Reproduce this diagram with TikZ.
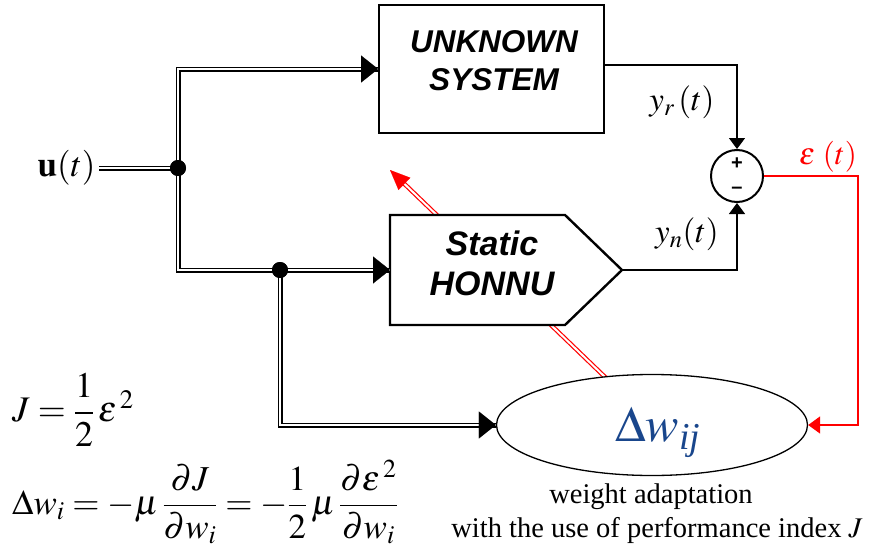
\documentclass[tikz,border=0pt]{standalone}
\usepackage{amsmath}
\usepackage{mathptmx}
\usepackage{fontspec}
\setmainfont{Liberation Serif}
\setsansfont{Liberation Sans}
\usetikzlibrary{arrows.meta,shapes.geometric,calc}
\definecolor{dwblue}{RGB}{25,70,140}
\begin{document}
\begin{tikzpicture}[x=1pt,y=-1pt,
  dbl/.style={draw=black, double=white, double distance=2.2pt, line width=1.4pt},
  rdbl/.style={draw=red, double=white, double distance=2pt, line width=1.2pt},
  sline/.style={line width=1.3pt},
  dtip/.style={line width=0.1pt,-{Triangle[length=17pt,width=27pt]}},
  stip/.style={-{Triangle[length=11pt,width=16pt]}},
  rtip/.style={draw=red,line width=0.1pt,-{Triangle[length=20pt,width=17pt]}},
  usfont/.style={font=\fontsize{31.5}{38}\selectfont\sffamily\bfseries\itshape, align=center},
  hnfont/.style={font=\fontsize{34}{40}\selectfont\sffamily\bfseries\itshape, align=center},
  lbl/.style={font=\fontsize{33}{38}\selectfont},
  dot/.style={circle, fill=black, inner sep=0pt, minimum size=16pt}]
\useasboundingbox (0,0) rectangle (873,554);

% adaptation line (drawn first, hidden by blocks)
\coordinate (ad1) at (606,378);
\coordinate (ad2) at (390,170);
\draw[rdbl] (ad1) -- ($(ad2)!18pt!(ad1)$);
\draw[rtip,red] ($(ad2)!20pt!(ad1)$) -- (ad2);

% unknown system
\node[draw, line width=1.8pt, fill=white, minimum width=225pt, minimum height=128pt] (us) at (491.5,69) {};
\node[usfont] (ustext) at (494,61) {UNKNOWN\\SYSTEM};

% static HONNU
\draw[line width=2.4pt, fill=white, line join=miter] (390,215) -- (565,215) -- (622,270) -- (565,325) -- (390,325) -- cycle;
\coordinate (hnin) at (390,270);
\coordinate (hnout) at (622,270);
\node[hnfont] (hntext) at (492,263) {Static\\HONNU};

% sum
\node[circle, draw, line width=2pt, minimum size=52pt, inner sep=0pt] (sum) at (737,176) {};
\node[font=\fontsize{20}{22}\selectfont\sffamily\bfseries] (plus) at (737,164) {+};
\node[font=\fontsize{20}{22}\selectfont\sffamily\bfseries] (minus) at (737,190) {\textendash};

% ellipse
\node[ellipse, draw, line width=1.3pt, fill=white, minimum width=311pt, minimum height=101pt, inner sep=0pt] (ell) at (652,425) {};
\node[font=\fontsize{50}{54}\selectfont, text=dwblue] (dw) at (658,432) {$\Delta w_{\hbox{\fontsize{38}{40}\selectfont\itshape ij}}$};

% input
\node[anchor=east, font=\fontsize{35}{40}\selectfont] (u) at (99,168) {$\mathbf{u}(t)$};
\node[dot] (j1) at (178,168) {};
\node[dot] (j2) at (280,270) {};
\draw[dbl] (u.east) -- (j1.center);
\draw[dbl] (j1.center) |- (us.west);
\draw[dtip] ($(us.west)+(-17,0)$) -- (us.west);
\draw[dbl] (j1.center) |- (hnin);
\draw[dtip] ($(hnin)+(-17,0)$) -- (hnin);
\draw[dbl] (j2.center) |- (ell.west);
\draw[dtip] ($(ell.west)+(-17,0)$) -- (ell.west);
\node[dot] at (178,168) {};
\node[dot] at (280,270) {};

% outputs
\draw[sline, stip] ([yshift=4pt]us.east) -| (sum.north);
\draw[sline, stip] (hnout) -| (sum.south);
\node[lbl] (yr) at (682,102) {$y_r\,(t)$};
\node[lbl] (yn) at (687,234) {$y_n(t)$};

% error
\coordinate (rc) at (858,300);
\draw[red, line width=1.6pt, -{Triangle[length=12pt,width=17pt]}] (sum.east) -| (rc) |- (ell.east);
\node[text=red, font=\fontsize{31}{36}\selectfont] (eps) at (828,157) {$\varepsilon\ (t)$};

% captions
\node[font=\fontsize{28.5}{32}\selectfont, inner sep=0pt] (c1) at (651,497) {weight adaptation};
\node[font=\fontsize{28.5}{32}\selectfont, inner sep=0pt] (c2) at (657,530) {with the use of performance index $J$};

% equations
\node[anchor=west, inner sep=0pt, font=\fontsize{36}{42}\selectfont] (eq1) at (12,410) {$J=\dfrac{1}{2}\,\varepsilon^{\,2}$};
\node[anchor=west, inner sep=0pt, font=\fontsize{35}{42}\selectfont] (eq2) at (12,502) {$\Delta w_i=-\mu\,\dfrac{\partial J}{\partial w_i}=-\dfrac{1}{2}\,\mu\,\dfrac{\partial \varepsilon^{\,2}}{\partial w_i}$};
\end{tikzpicture}
\end{document}
